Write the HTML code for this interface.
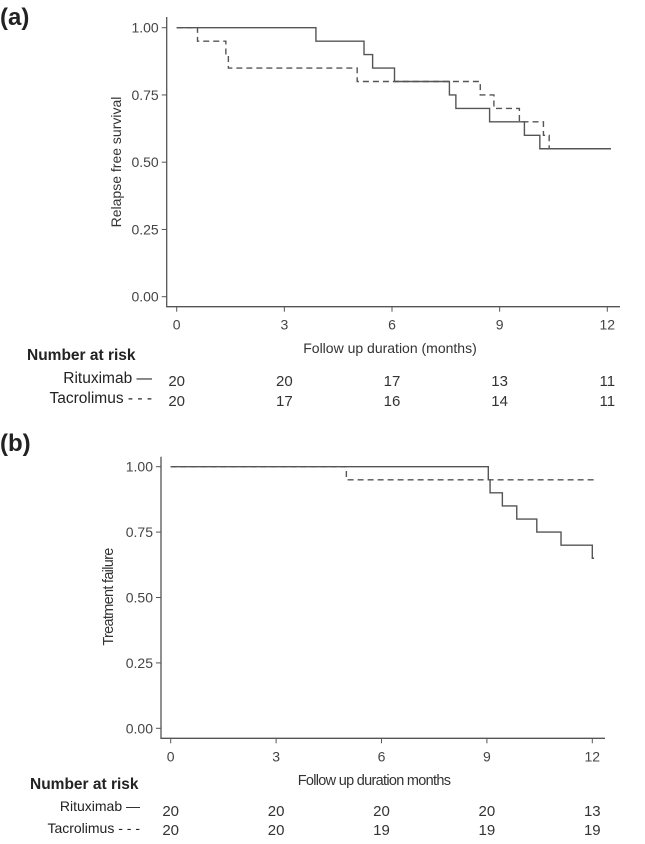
<!DOCTYPE html>
<html><head><meta charset="utf-8"><style>
body{margin:0;background:#fff;}
svg{display:block;font-family:"Liberation Sans",sans-serif;}
</style></head><body>
<svg id="chart" width="645" height="844" viewBox="0 0 645 844">
<text x="0" y="25" font-size="24" font-weight="bold" fill="#222">(a)</text>
<text x="0" y="451" font-size="24" font-weight="bold" fill="#222">(b)</text>
<g id="pa"></g>
<g id="pb"></g>
</svg>
<script>
const xTicks=[0,3,6,9,12];
const yTicks=[0,0.25,0.5,0.75,1];
const riskGroups=["Rituximab \u2014","Tacrolimus - - -"];
// Panel a
const aRituxTimes=[0,3.88,5.22,5.46,6.07,7.6,7.78,8.72,9.69,10.12,12.1];
const aRituxSurv=[1,0.95,0.90,0.85,0.80,0.75,0.70,0.65,0.60,0.55,0.55];
const aTacroTimes=[0,0.58,1.37,1.44,5.03,8.46,8.84,9.55,10.22,10.38,12.1];
const aTacroSurv=[1,0.95,0.90,0.85,0.80,0.75,0.70,0.65,0.60,0.55,0.55];
const aRiskRitux=[20,20,17,13,11];
const aRiskTacro=[20,17,16,14,11];
// Panel b
const bRituxTimes=[0,9.04,9.09,9.44,9.85,10.42,11.11,12.0,12.05];
const bRituxSurv=[1,0.95,0.90,0.85,0.80,0.75,0.70,0.65,0.65];
const bTacroTimes=[0,5.0,12.05];
const bTacroSurv=[1,0.95,0.95];
const bRiskRitux=[20,20,20,20,13];
const bRiskTacro=[20,20,19,19,19];

const NS="http://www.w3.org/2000/svg";
function mk(p,t,a){const e=document.createElementNS(NS,t);for(const k in a)e.setAttribute(k,a[k]);p.appendChild(e);return e;}
function stepPath(ts,ss,X,Y){let d="M"+X(ts[0])+","+Y(ss[0]);for(let i=1;i<ts.length;i++){d+=" H"+X(ts[i])+" V"+Y(ss[i]);}return d;}

function panel(g,c){
  const X=t=>c.x0+(c.x12-c.x0)*t/12;
  const Y=v=>c.y0+(c.y1-c.y0)*v;
  const ax=mk(g,"path",{d:`M${c.axL},${c.axT} V${c.axB} H${c.axR}`,stroke:"#555","stroke-width":1.3,fill:"none"});
  
  
  yTicks.forEach(v=>{
    const tk=mk(g,"line",{x1:c.axL-5,x2:c.axL,y1:Y(v),y2:Y(v),stroke:"#555"});
    
    
    const tl=mk(g,"text",{x:c.axL-8,y:Y(v)+5,"text-anchor":"end","font-size":14,fill:"#444"});
    tl.textContent=v.toFixed(2);
    
    
  });
  xTicks.forEach((t,i)=>{
    const tk=mk(g,"line",{x1:X(t),x2:X(t),y1:c.axB,y2:c.axB+5,stroke:"#555"});
    
    
    const tl=mk(g,"text",{x:X(t),y:c.axB+23,"text-anchor":"middle","font-size":14,fill:"#444"});
    tl.textContent=t;
    
    
    [c.r1,c.r2].forEach((arr,j)=>{
      const n=mk(g,"text",{x:X(t),y:c.rowY[j],"text-anchor":"middle","font-size":15,fill:"#333"});
      n.textContent=arr[i];
      
      
    });
  });
  const xt=mk(g,"text",{x:c.xtX,y:c.xtY,"text-anchor":"middle","font-size":c.fs,fill:"#333","letter-spacing":c.ls});
  xt.textContent=c.xTitle;
  
  
  const yt=mk(g,"text",{x:0,y:0,"text-anchor":"middle","font-size":c.fs,fill:"#333","letter-spacing":c.ls,transform:`translate(${c.ytX},${c.ytY}) rotate(-90)`});
  yt.textContent=c.yTitle;
  
  
  const rt=mk(g,"text",{x:c.nrX,y:c.nrY,"font-size":15.5,"font-weight":"bold",fill:"#222"});
  rt.textContent="Number at risk";
  
  
  riskGroups.forEach((s,j)=>{
    const l=mk(g,"text",{x:c.grpX,y:c.grpY[j],"text-anchor":"end","font-size":c.gfs,fill:"#222"});
    l.textContent=s;
    
    
  });
  const p1=mk(g,"path",{d:stepPath(c.tt,c.ts,X,Y),stroke:"#555","stroke-width":1.4,fill:"none","stroke-dasharray":"6,4"});
  
  
  const p2=mk(g,"path",{d:stepPath(c.rt,c.rs,X,Y),stroke:"#555","stroke-width":1.4,fill:"none"});
  
  
}
panel(document.getElementById("pa"),{x0:176.7,x12:607.3,y0:296.7,y1:27.7,axL:166.7,axT:17,axB:306.7,axR:620,
  xTitle:"Follow up duration (months)",xtX:390,xtY:353,yTitle:"Relapse free survival",ytX:121,ytY:162,fs:14,ls:0,
  nrX:27,nrY:360,grpX:152,grpY:[383,403],gfs:15.5,rowY:[386,406],r1:aRiskRitux,r2:aRiskTacro,
  rt:aRituxTimes,rs:aRituxSurv,tt:aTacroTimes,ts:aTacroSurv});
panel(document.getElementById("pb"),{x0:170.7,x12:592.3,y0:728.3,y1:466.7,axL:161,axT:456.7,axB:738.3,axR:605,
  xTitle:"Follow up duration months",xtX:374,xtY:785,yTitle:"Treatment failure",ytX:113,ytY:597,fs:14.5,ls:-0.7,
  nrX:30,nrY:789,grpX:140,grpY:[811,833],gfs:14,rowY:[816,835],r1:bRiskRitux,r2:bRiskTacro,
  rt:bRituxTimes,rs:bRituxSurv,tt:bTacroTimes,ts:bTacroSurv});
</script>
</body></html>
